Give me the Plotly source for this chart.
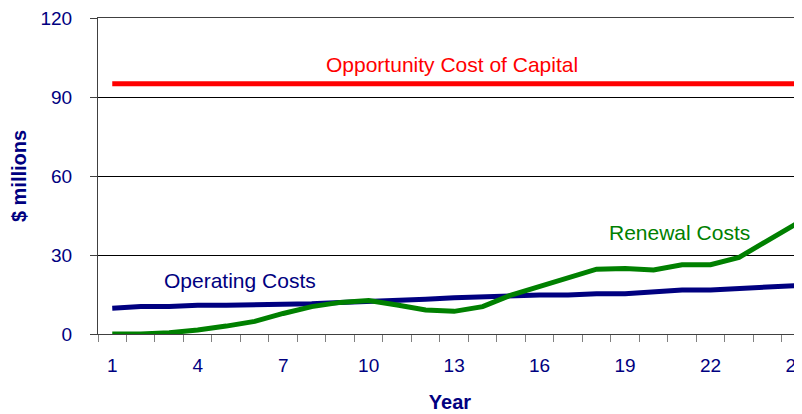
import plotly.graph_objects as go

years = list(range(1, 26))
opportunity_cost = [95] * 25
operating_costs = [9.8, 10.4, 10.4, 10.9, 10.9, 11.0, 11.5, 11.5, 12.0, 12.3,
                   12.9, 13.2, 13.8, 14.2, 14.4, 14.8, 14.8, 15.3, 15.3, 16.0,
                   16.7, 16.7, 17.2, 17.7, 18.4]
renewal_costs = [0.0, 0.0, 0.5, 1.5, 3.0, 4.8, 7.8, 10.4, 12.0, 12.7,
                 11.0, 9.1, 8.6, 10.4, 14.8, 18.2, 21.5, 24.6, 24.9, 24.3,
                 26.3, 26.3, 29.1, 35.4, 41.8]
x_tick_vals = [1, 4, 7, 10, 13, 16, 19, 22, 25]
y_tick_vals = [0, 30, 60, 90, 120]

NAVY = "#000080"
GREEN = "#008000"
RED = "#FF0000"
FONT = "Liberation Sans, Arial, sans-serif"

fig = go.Figure()
fig.add_trace(go.Scatter(x=years, y=opportunity_cost, mode="lines",
                         line=dict(color=RED, width=5), name="Opportunity Cost of Capital"))
fig.add_trace(go.Scatter(x=years, y=operating_costs, mode="lines",
                         line=dict(color=NAVY, width=5), name="Operating Costs"))
fig.add_trace(go.Scatter(x=years, y=renewal_costs, mode="lines",
                         line=dict(color=GREEN, width=5), name="Renewal Costs"))

fig.add_annotation(x=12.93, y=102.5, text="Opportunity Cost of Capital", showarrow=False,
                   font=dict(color=RED, size=21, family=FONT))
fig.add_annotation(x=5.49, y=20.5, text="Operating Costs", showarrow=False,
                   font=dict(color=NAVY, size=21, family=FONT))
fig.add_annotation(x=20.9, y=38.7, text="Renewal Costs", showarrow=False,
                   font=dict(color=GREEN, size=21, family=FONT))

# page body has an 8px default margin, so the figure is sized to fill the rest
fig.update_layout(
    width=794, height=406,
    margin=dict(l=90, r=0, t=10, b=80),
    plot_bgcolor="white", paper_bgcolor="white",
    showlegend=False,
    font=dict(family=FONT, color=NAVY, size=19),
)
fig.update_xaxes(
    range=[0.5, 25.21],
    automargin=False,
    tickvals=x_tick_vals,
    ticks="",
    ticklabeloverflow="allow",
    showgrid=False,
    zeroline=False,
    showline=True, linecolor="#404040", linewidth=1, mirror=True,
    tickfont=dict(size=19, color=NAVY),
    ticklabelstandoff=14,
    minor=dict(tick0=0.5, dtick=1, ticks="outside", ticklen=7, tickcolor="#808080",
               tickwidth=1, showgrid=False),
    title=dict(text="<b>Year</b>", font=dict(size=20, color=NAVY), standoff=20),
)
fig.update_yaxes(
    range=[0, 120],
    automargin=False,
    tickvals=y_tick_vals,
    ticks="outside", ticklen=7, tickcolor="#404040",
    ticklabeloverflow="allow",
    showgrid=True, gridcolor="black", gridwidth=1,
    zeroline=False,
    showline=True, linecolor="#404040", linewidth=1,
    tickfont=dict(size=19, color=NAVY),
    ticklabelstandoff=14,
    title=dict(text="<b>$ millions</b>", font=dict(size=20, color=NAVY), standoff=12),
)

fig.write_html("out.html")
